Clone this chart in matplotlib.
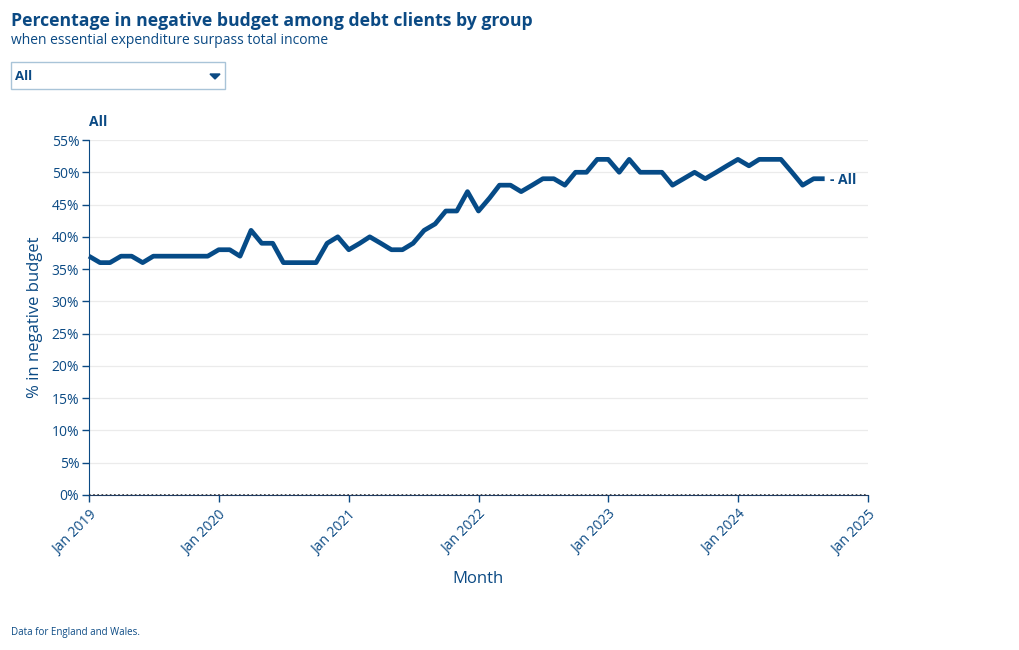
import numpy as np
import pandas as pd
import matplotlib
matplotlib.use("Agg")
import matplotlib.pyplot as plt
from matplotlib.patches import Rectangle, Polygon

plt.rcParams['font.family'] = ['Open Sans', 'DejaVu Sans']

blue = '#0b4a84'
line_blue = '#064b87'

# monthly values, Jan 2019 - Sep 2024
months = pd.date_range('2019-01-01', '2024-09-01', freq='MS')
pct_all = [37, 36, 36, 37, 37, 36, 37, 37, 37, 37, 37, 37,
           38, 38, 37, 41, 39, 39, 36, 36, 36, 36, 39, 40,
           38, 39, 40, 39, 38, 38, 39, 41, 42, 44, 44, 47,
           44, 46, 48, 48, 47, 48, 49, 49, 48, 50, 50, 52,
           52, 50, 52, 50, 50, 50, 48, 49, 50, 49, 50, 51,
           52, 51, 52, 52, 52, 50, 48, 49, 49]
yticks = list(range(0, 56, 5))
xticks = pd.date_range('2019-01-01', '2025-01-01', freq='YS')

fig = plt.figure(figsize=(10.2, 6.5), dpi=100)
ax = fig.add_axes([89/1020, 155/650, 779/1020, 355/650])

ax.plot(months, pct_all, color=line_blue, lw=3.4, solid_joinstyle='round',
        solid_capstyle='butt', clip_on=False)
ax.annotate('- All', xy=(months[-1], pct_all[-1]), xytext=(4, -1),
            textcoords='offset points', va='center', ha='left',
            fontsize=10, fontweight='bold', color=blue)

ax.set_ylim(0, 55)
ax.set_xlim(xticks[0], xticks[-1])
ax.set_yticks(yticks)
ax.set_yticklabels([f'{v}%' for v in yticks])
ax.set_xticks(xticks)
ax.set_xticklabels([d.strftime('Jan %Y') for d in xticks], rotation=45,
                   ha='right', rotation_mode='anchor')
ax.grid(axis='y', color='#ebebeb', lw=0.9)
ax.set_axisbelow(True)
for s in ['top', 'right']:
    ax.spines[s].set_visible(False)
ax.spines['left'].set_color(blue)
ax.spines['bottom'].set_color('#1f3a60')
ax.axhline(0, color='#333333', lw=1.2, ls=(0, (1, 1.5)), zorder=3)
ax.tick_params(colors=blue, labelsize=10, length=5, width=1, pad=2)
ax.tick_params(axis='x', pad=4)

ax.set_xlabel('Month', fontsize=12, color=blue, labelpad=10)
ax.set_ylabel('% in negative budget', fontsize=12, color=blue, labelpad=6)

ax.text(0, 1.03, 'All', transform=ax.transAxes, fontsize=10,
        fontweight='bold', color=blue, ha='left', va='bottom')

fig.text(11/1020, 1 - 21/650, 'Percentage in negative budget among debt clients by group',
         fontsize=12.7, fontweight='bold', color=blue, va='center')
fig.text(11/1020, 1 - 40/650, 'when essential expenditure surpass total income',
         fontsize=10, color=blue, va='center')

# dropdown box
fig.patches.append(Rectangle((11/1020, 1 - 89/650), 214/1020, 27/650,
                             transform=fig.transFigure, fill=False,
                             edgecolor='#a9c4d8', lw=1))
fig.text(15/1020, 1 - 76/650, 'All', fontsize=9.5, fontweight='bold',
         color=blue, va='center')
fig.patches.append(Polygon([(210/1020, 1 - 74/650), (220/1020, 1 - 74/650),
                            (215/1020, 1 - 79/650)], closed=True,
                           transform=fig.transFigure, color=blue))

fig.text(11/1020, 1 - 633/650, 'Data for England and Wales.', fontsize=7,
         color=blue, va='center')

fig.savefig('out.png', dpi=100)
